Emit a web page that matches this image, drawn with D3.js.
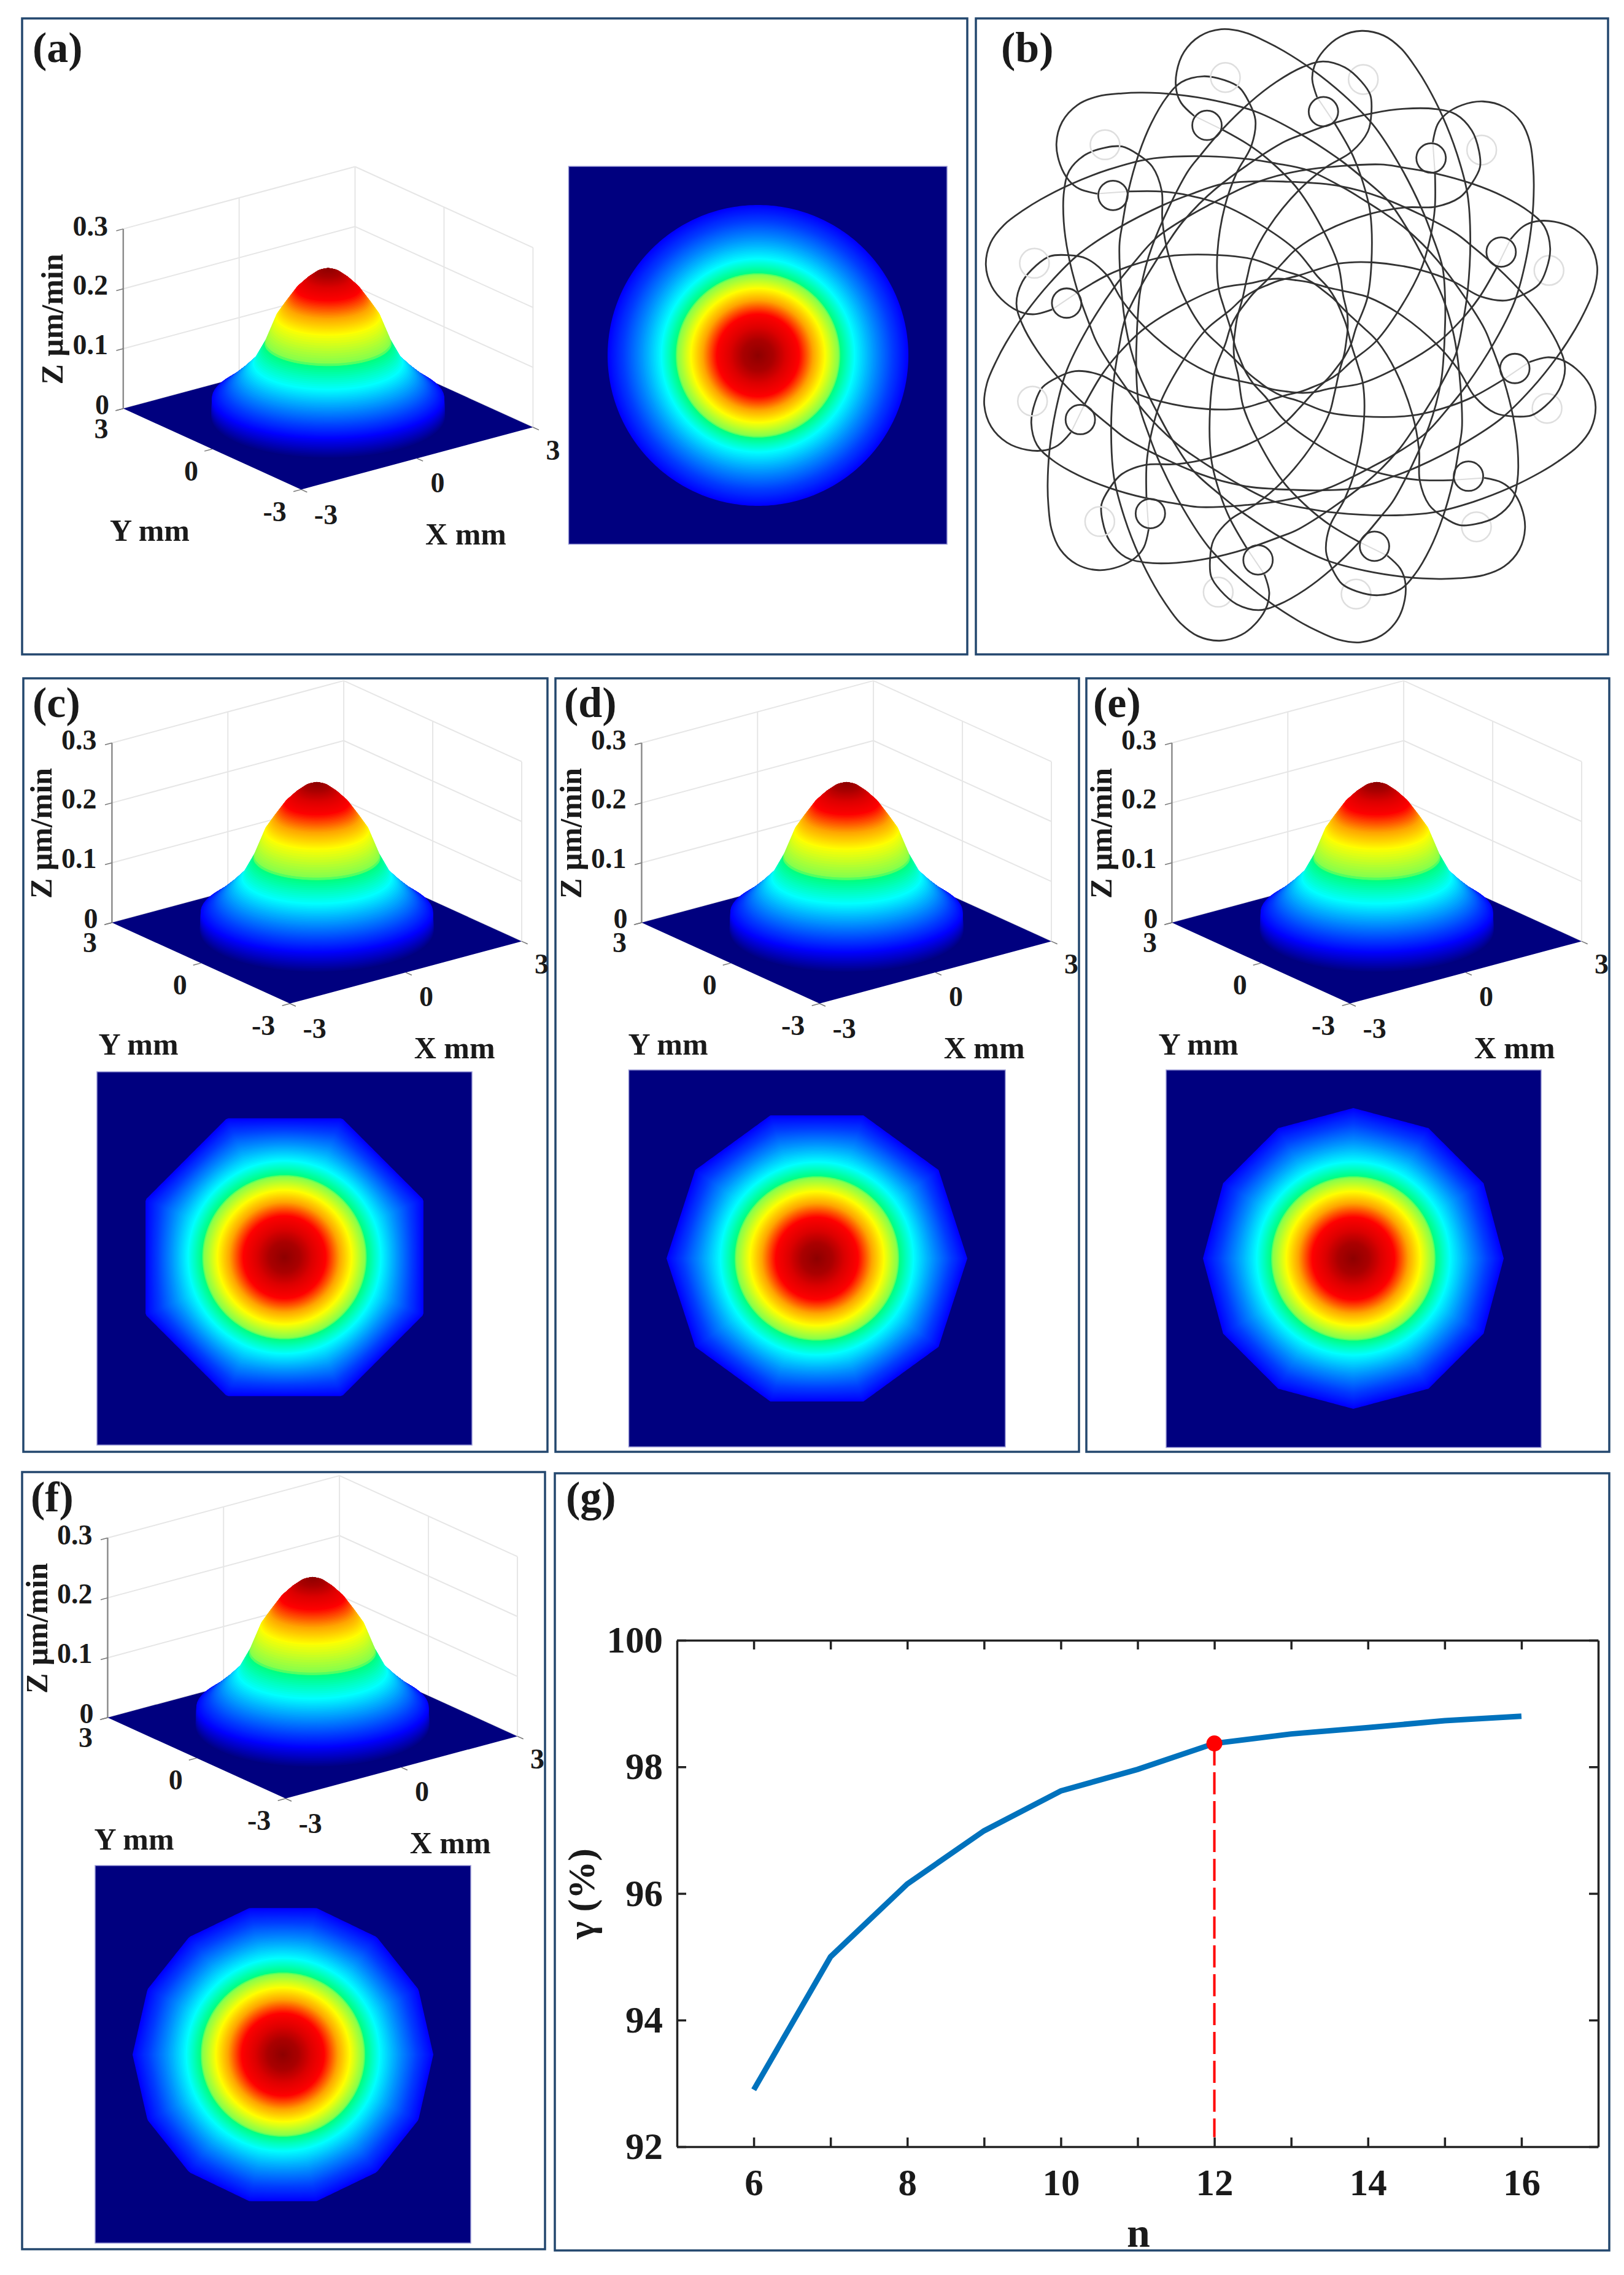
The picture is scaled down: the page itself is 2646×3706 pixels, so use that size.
<!DOCTYPE html>
<html>
<head>
<meta charset="utf-8">
<script src="https://cdn.jsdelivr.net/npm/d3@7"></script>
<style>
body { margin: 0; background: #fff; }
text { font-family: "Liberation Serif", serif; font-weight: bold; fill: #1a1a1a; }
</style>
</head>
<body>
<script>
// removal profile: radius in mm, depth rate in um/min
var profileR = [0, 0.25, 0.45, 0.66, 0.88, 1.07, 1.30, 1.54, 1.85, 2.13, 2.38, 2.40];
var profileZ = [0.250, 0.242, 0.230, 0.214, 0.190, 0.168, 0.124, 0.090, 0.066, 0.047, 0.033, 0];

// colour bands seen in the maps
var colorZ = [0, 0.033, 0.090, 0.122, 0.125, 0.168, 0.190, 0.214, 0.230, 0.242, 0.250];
var colorV = ["#00007f", "#0000ff", "#00ffff", "#00ff80", "#80ff50", "#ffff00", "#ffa500", "#ff0000", "#dc0000", "#aa0000", "#8c0000"];

var axisXY = [-3, 0, 3];
var axisZ = [0, 0.1, 0.2, 0.3];
var polygonSides = [0, 8, 10, 12, 14];   // 0 = round aperture in (a)
var polygonTurn = [0, 22.5, 0, 0, 0];

// one closed tool path of (b), angle from its small circle (deg) and radius (px)
var pathAngle = [-2, -3.5, -3.3, -1.7, 1.1, 4.8, 8.9, 12.8, 16.9, 20.3, 26.1, 34, 43, 53.5, 67.7, 76.7, 87.7, 101.3, 110.7, 118, 128.7, 144.7, 169.3, 175.2, 183.6, 191.8, 198.4, 204.2, 208.4, 213.1, 217.2, 220, 221.6, 222.4, 220, 213.4, 204.8, 190.1, 175.2, 165.7, 149, 130, 116, 103, 90, 75, 56, 40, 24.5, 16, 10.1, 3.3];
var pathRadius = [391, 419, 441, 468, 494, 510, 512, 501, 481, 464, 436, 402, 369, 332, 297, 282, 271, 256, 251, 251, 256, 269, 315, 329, 355, 386, 414, 438, 450, 446, 430, 413, 386, 356, 316, 280, 237, 180, 141, 120, 99, 92, 91, 94, 99, 107, 138, 176, 239, 281, 314, 354];
var pathCopies = d3.range(12);

// panel (g)
var nValues = [6, 7, 8, 9, 10, 11, 12, 13, 14, 15, 16];
var gammaValues = [92.9, 95.0, 96.15, 96.99, 97.62, 97.96, 98.37, 98.52, 98.62, 98.73, 98.80];
var nBest = 12;
var gammaBest = 98.37;

var svg = d3.select("body").append("svg").attr("width", 2646).attr("height", 3706);
var zColor = d3.scaleLinear().domain(colorZ).range(colorV).clamp(true);
var zAt = d3.scaleLinear().domain(profileR).range(profileZ);

// rings from the rim to the peak, painted in that order
var rings = [];
for (var i = profileR.length - 1; i > 0; i--) {
    for (var j = 0; j < 12; j++) {
        var rr = profileR[i] + (profileR[i - 1] - profileR[i]) * j / 12;
        rings.push(rr);
    }
}
rings.push(0.005);

var lineClosed = d3.line().curve(d3.curveLinearClosed);

function label(g, str, x, y, size, anchor) {
    return g.append("text").text(str)
        .attr("x", x).attr("y", y + size * 0.338)
        .attr("font-size", size).attr("text-anchor", anchor || "middle");
}

function drawSurface(dx, dy) {
    var g = svg.append("g").attr("transform", "translate(" + dx + "," + dy + ")");
    var L = [200.8, 665.6], B = [490.7, 797.4], R = [868.4, 696];
    var unit = d3.scaleLinear().domain([-3, 3]).range([0, 1]);
    var zPix = d3.scaleLinear().domain([0, 0.3]).range([0, -292.7]);
    function proj(x, y, z) {
        return [B[0] + unit(x) * (R[0] - B[0]) + unit(y) * (L[0] - B[0]),
                B[1] + unit(x) * (R[1] - B[1]) + unit(y) * (L[1] - B[1]) + zPix(z)];
    }
    function seg(a, b, col, w) {
        g.append("line").attr("x1", a[0]).attr("y1", a[1]).attr("x2", b[0]).attr("y2", b[1])
            .attr("stroke", col).attr("stroke-width", w);
    }
    // back walls
    axisZ.forEach(function (z) {
        seg(proj(-3, 3, z), proj(3, 3, z), "#e6e6e6", 2);
        seg(proj(3, 3, z), proj(3, -3, z), "#e6e6e6", 2);
    });
    seg(proj(0, 3, 0), proj(0, 3, 0.3), "#e6e6e6", 2);
    seg(proj(3, 3, 0), proj(3, 3, 0.3), "#e6e6e6", 2);
    seg(proj(3, 0, 0), proj(3, 0, 0.3), "#e6e6e6", 2);
    seg(proj(3, -3, 0), proj(3, -3, 0.3), "#e6e6e6", 2);
    seg(proj(-3, 3, 0), proj(-3, 3, 0.3), "#8c8c8c", 2.5);
    axisZ.forEach(function (z) {
        seg(proj(-3, 3, z), proj(-3.18, 3, z), "#777", 1.5);
    });
    axisXY.forEach(function (v) {
        seg(proj(v, -3, 0), proj(v, -3.2, 0), "#777", 1.5);
        seg(proj(-3, v, 0), proj(-3.2, v, 0), "#777", 1.5);
    });

    // floor then hill
    g.append("path").attr("fill", "#00007f")
        .attr("d", lineClosed([proj(-3, -3, 0), proj(3, -3, 0), proj(3, 3, 0), proj(-3, 3, 0)]));
    var phis = d3.range(0, 360, 5);
    rings.forEach(function (r) {
        var z = zAt(r);
        var pts = phis.map(function (p) {
            var a = p * Math.PI / 180;
            return proj(r * Math.cos(a), r * Math.sin(a), z);
        });
        g.append("path").attr("d", lineClosed(pts)).attr("fill", zColor(z))
            .attr("stroke", zColor(z)).attr("stroke-width", 1);
    });

    // tick labels
    label(g, "0.3", 176, 368, 46, "end");
    label(g, "0.2", 176, 464, 46, "end");
    label(g, "0.1", 176, 561, 46, "end");
    label(g, "0", 178, 659, 46, "end");
    label(g, "3", 165, 698, 46);
    label(g, "0", 311.6, 767, 46);
    label(g, "-3", 447.6, 833, 46);
    label(g, "-3", 531, 838, 46);
    label(g, "0", 713, 786, 46);
    label(g, "3", 901, 733, 46);
    label(g, "Y mm", 244, 864, 50);
    label(g, "X mm", 759, 870, 50);
    g.append("text").text("Z \u03bcm/min").attr("font-size", 50).attr("text-anchor", "middle")
        .attr("transform", "translate(102,520) rotate(-90)");
}

function drawMap(x0, x1, y0, y1, cx, cy, idx) {
    var g = svg.append("g");
    g.append("rect").attr("x", x0).attr("y", y0).attr("width", x1 - x0).attr("height", y1 - y0)
        .attr("fill", "#00007f").attr("stroke", "#9a9ad6").attr("stroke-width", 1.5);
    var n = polygonSides[idx], turn = polygonTurn[idx] * Math.PI / 180;
    var mapPix = d3.scaleLinear().domain([0, 2.38]).range([0, 245]);
    var blend = d3.scaleLinear().domain([1.5, 2.38]).range([0, 1]).clamp(true);
    var phis = d3.range(0, 360, 1);
    rings.filter(function (r) { return r <= 2.38; }).forEach(function (r) {
        var w = blend(r);
        var pts = phis.map(function (p) {
            var a = p * Math.PI / 180, k = 1;
            if (n > 0) {
                var s = 2 * Math.PI / n;
                var t = ((a - turn) % s + s) % s;
                k = Math.cos(s / 2) / Math.cos(t - s / 2);
            }
            var rad = mapPix(r) * (1 - w + w * k);
            return [cx + rad * Math.cos(a), cy + rad * Math.sin(a)];
        });
        g.append("path").attr("d", lineClosed(pts)).attr("fill", zColor(zAt(r)));
    });
}

function drawPaths() {
    var g = svg.append("g").attr("transform", "translate(2103,547)");
    var spot = d3.scaleLinear().domain([0, 360]).range([-Math.PI / 2, 1.5 * Math.PI]);
    function polar(deg, r) {
        return [r * Math.cos(spot(((deg % 360) + 360) % 360)), r * Math.sin(spot(((deg % 360) + 360) % 360))];
    }
    var trace = d3.line().curve(d3.curveCatmullRom.alpha(0.5));
    pathCopies.forEach(function (k) {
        var base = 8.3 + 30 * k;
        var pts = pathAngle.map(function (a, i) { return polar(base + a, pathRadius[i]); });
        g.append("path").attr("d", trace(pts)).attr("fill", "none")
            .attr("stroke", "#333").attr("stroke-width", 2.8);
        var last = pts[pts.length - 1];
        g.append("line").attr("x1", last[0]).attr("y1", last[1]).attr("x2", pts[0][0]).attr("y2", pts[0][1])
            .attr("stroke", "#dcdcdc").attr("stroke-width", 2);
        var gp = polar(base + 7.5, 434);
        g.append("circle").attr("cx", gp[0]).attr("cy", gp[1]).attr("r", 24)
            .attr("fill", "none").attr("stroke", "#dedede").attr("stroke-width", 2.5);
        var bp = polar(base, 369);
        g.append("circle").attr("cx", bp[0]).attr("cy", bp[1]).attr("r", 24)
            .attr("fill", "none").attr("stroke", "#333").attr("stroke-width", 2.8);
    });
}

function drawCurve() {
    var x = d3.scaleLinear().domain([5, 17]).range([1103, 2604]);
    var y = d3.scaleLinear().domain([92, 100]).range([3497, 2672]);
    var nTicks = d3.range(6, 17);
    var yTicks = d3.range(92, 101, 2);
    function styleAxis(sel) {
        sel.selectAll("path,line").attr("stroke", "#222").attr("stroke-width", 3.5);
        sel.selectAll("text").attr("font-size", 61).attr("font-family", "Liberation Serif").attr("fill", "#1a1a1a");
    }
    svg.append("g").attr("transform", "translate(0,3497)")
        .call(d3.axisBottom(x).tickValues(nTicks).tickSizeInner(-15).tickSizeOuter(0).tickPadding(36)
            .tickFormat(function (d) { return d % 2 == 0 ? d : ""; })).call(styleAxis);
    svg.append("g").attr("transform", "translate(0,2672)")
        .call(d3.axisTop(x).tickValues(nTicks).tickSizeInner(-15).tickSizeOuter(0).tickFormat("")).call(styleAxis);
    svg.append("g").attr("transform", "translate(1103,0)")
        .call(d3.axisLeft(y).tickValues(yTicks).tickSizeInner(-15).tickSizeOuter(0).tickPadding(23)).call(styleAxis);
    svg.append("g").attr("transform", "translate(2604,0)")
        .call(d3.axisRight(y).tickValues(yTicks).tickSizeInner(-15).tickSizeOuter(0).tickFormat("")).call(styleAxis);

    var line = d3.line()
        .x(function (d, i) { return x(nValues[i]); })
        .y(function (d) { return y(d); });
    svg.append("path").attr("d", line(gammaValues)).attr("fill", "none")
        .attr("stroke", "#0072BD").attr("stroke-width", 9);
    svg.append("line").attr("x1", x(nBest)).attr("x2", x(nBest)).attr("y1", y(gammaBest)).attr("y2", y(92.15))
        .attr("stroke", "#ff0000").attr("stroke-width", 4).attr("stroke-dasharray", "36,11");
    svg.append("circle").attr("cx", x(nBest)).attr("cy", y(gammaBest)).attr("r", 13).attr("fill", "#ff0000");

    label(svg, "n", 1855, 3637, 68);
    svg.append("text").text("\u03b3 (%)").attr("font-size", 62).attr("text-anchor", "middle")
        .attr("transform", "translate(968,3085) rotate(-90)");
}

// panel frames
var frames = [[36, 30, 1576, 1066], [1590, 30, 2620, 1066], [38, 1105, 892, 2365], [905, 1105, 1758, 2365],
              [1770, 1105, 2622, 2365], [36, 2398, 888, 3664], [904, 2400, 2622, 3666]];
frames.forEach(function (f) {
    svg.append("rect").attr("x", f[0]).attr("y", f[1]).attr("width", f[2] - f[0]).attr("height", f[3] - f[1])
        .attr("fill", "#fff").attr("stroke", "#23476e").attr("stroke-width", 3.5);
});

drawSurface(0, 0);
drawSurface(-18.4, 837.4);
drawSurface(844.6, 837.4);
drawSurface(1708.6, 837.4);
drawSurface(-25.4, 2132.4);

drawMap(926.5, 1543, 271, 886.5, 1235, 579, 0);
drawMap(158, 769, 1746, 2354, 463.5, 2048, 1);
drawMap(1024.5, 1638, 1743, 2357, 1331, 2050, 2);
drawMap(1900, 2511, 1743, 2358, 2205, 2050, 3);
drawMap(155, 767, 3039, 3654, 461, 3347, 4);

drawPaths();
drawCurve();

var tags = [["(a)", 53, 101], ["(b)", 1631, 101], ["(c)", 53, 1168], ["(d)", 919, 1168], ["(e)", 1781, 1168], ["(f)", 50, 2462], ["(g)", 922, 2462]];
tags.forEach(function (t) {
    svg.append("text").text(t[0]).attr("x", t[1]).attr("y", t[2]).attr("font-size", 70);
});
</script>
</body>
</html>
